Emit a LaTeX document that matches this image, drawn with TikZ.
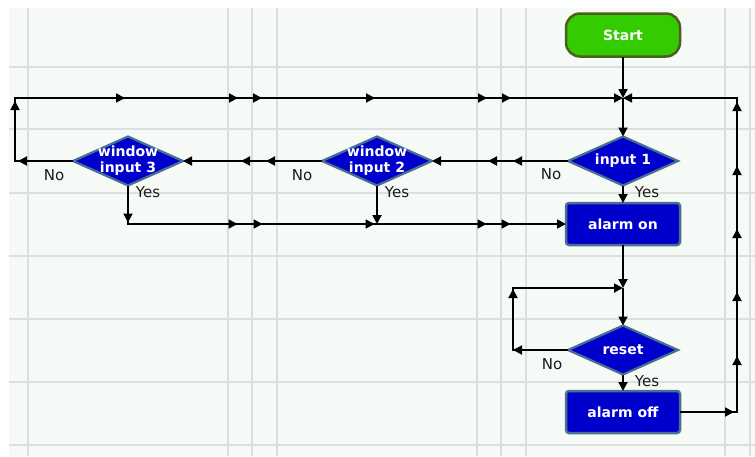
\documentclass[tikz,border=0pt]{standalone}
\usepackage{fontspec}
\setmainfont{DejaVu Sans}
\usetikzlibrary{arrows.meta,shapes.geometric,decorations.markings}
\definecolor{bgc}{HTML}{F5FAF7}
\definecolor{gridc}{HTML}{DCDFDD}
\definecolor{nblue}{HTML}{0000CC}
\definecolor{nborder}{HTML}{4A7090}
\definecolor{sgreen}{HTML}{33CC00}
\definecolor{sborder}{HTML}{4E5E1C}
\definecolor{lbl}{HTML}{1A1A1A}
\tikzset{
  ftri/.tip={Triangle[length=9pt,width=9pt]},
  conn/.style={line width=1.8pt, draw=black},
  ma/.style={postaction={decorate,decoration={markings,mark=at position #1 with {\arrow{ftri}}}}},
  gridl/.style={draw=gridc, line width=1.1pt},
  ntxt/.style={text=white, font=\fontsize{14}{16}\selectfont\bfseries},
  startn/.style={ntxt, fill=sgreen, draw=sborder, line width=2.5pt, rounded corners=14pt,
    minimum width=114pt, minimum height=43pt, inner sep=0pt, outer sep=0pt},
  boxn/.style={ntxt, fill=nblue, draw=nborder, line width=2.5pt, rounded corners=3pt,
    minimum width=114pt, minimum height=42pt, inner sep=0pt, outer sep=0pt},
  dia/.style={shape=diamond, fill=nblue, draw=nborder, line width=2.2pt,
    minimum width=110pt, minimum height=49pt, inner sep=0pt, outer sep=0pt},
  dtxt/.style={ntxt, align=center, inner sep=0pt},
  lab/.style={text=lbl, font=\fontsize{15}{18}\selectfont, inner sep=0pt}
}
\begin{document}
\begin{tikzpicture}[x=1pt,y=-1pt]
\useasboundingbox (0,0) rectangle (755,456);
\fill[white] (0,0) rectangle (755,456);
\fill[bgc] (9,8) rectangle (755,456);
\foreach \gx in {28,228,252,277,477,501,526,725,750} \draw[gridl] (\gx,8) -- (\gx,456);
\foreach \gy in {67,129,193,256,319,382,445} \draw[gridl] (9,\gy) -- (755,\gy);

% nodes
\node[startn] (start) at (623,35) {Start};
\node[dia, label={[dtxt]center:input 1}] (in1) at (623,161) {};
\node[dia, label={[dtxt]center:window\\input 2}] (w2) at (377,161) {};
\node[dia, label={[dtxt]center:window\\input 3}] (w3) at (128,161) {};
\node[boxn] (on) at (623,224) {alarm on};
\node[dia, label={[dtxt]center:reset}] (rs) at (623,350) {};
\node[boxn] (off) at (623,412) {alarm off};

% waypoints
\coordinate (j1) at (623,98);
\coordinate (lc) at (15,161);
\coordinate (lt) at (15,98);
\coordinate (yb3) at (128,224);
\coordinate (yb2) at (377,224);
\coordinate (j2) at (623,288);
\coordinate (ll) at (513,350);
\coordinate (lu) at (513,288);
\coordinate (rb) at (737,412);
\coordinate (rt) at (737,98);

% connectors
\draw[conn,-{ftri}] (start.south) -- (j1);
\draw[conn,-{ftri}] (j1) -- (in1.north);
\draw[conn,-{ftri}] (in1.south) -- (on.north);
\draw[conn,-{ftri},ma=55pt,ma=80pt] (in1.west) -- (w2.east);
\draw[conn,-{ftri},ma=56pt,ma=81pt] (w2.west) -- (w3.east);
\draw[conn,-{ftri},ma=55pt,ma=118pt,ma=231pt,ma=344pt,ma=368pt,ma=481pt,ma=593pt,ma=617pt]
  (w3.west) -- (lc) -- (lt) -- (j1);
\draw[conn,-{ftri},ma=37pt,ma=148pt,ma=173pt,ma=285pt,ma=397pt,ma=421pt]
  (w3.south) -- (yb3) -- (on.west);
\draw[conn,-{ftri}] (w2.south) -- (yb2);
\draw[conn,-{ftri}] (on.south) -- (j2);
\draw[conn,-{ftri}] (j2) -- (rs.north);
\draw[conn,-{ftri},ma=55pt,ma=116pt] (rs.west) -- (ll) -- (lu) -- (j2);
\draw[conn,-{ftri}] (rs.south) -- (off.north);
\draw[conn,-{ftri},ma=54pt,ma=113pt,ma=177pt,ma=240pt,ma=303pt,ma=367pt]
  (off.east) -- (rb) -- (rt) -- (j1);

% labels
\node[lab] (n3) at (54,175) {No};
\node[lab] (y3) at (148,192) {Yes};
\node[lab] (n2) at (302,175) {No};
\node[lab] (y2) at (397,192) {Yes};
\node[lab] (n1) at (551,174) {No};
\node[lab] (y1) at (647,192) {Yes};
\node[lab] (nr) at (552,364) {No};
\node[lab] (yr) at (647,381) {Yes};
\end{tikzpicture}
\end{document}
